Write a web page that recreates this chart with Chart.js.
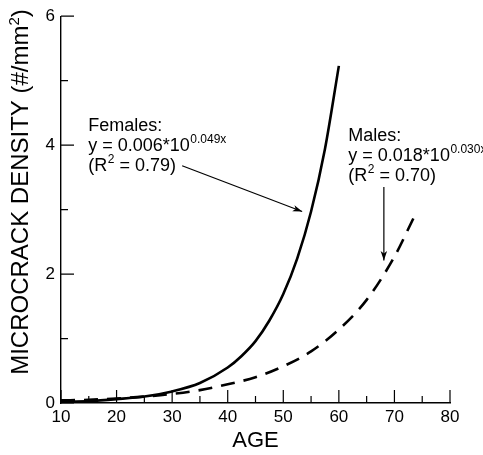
<!DOCTYPE html>
<html>
<head>
<meta charset="utf-8">
<script src="https://cdn.jsdelivr.net/npm/chart.js@4/dist/chart.umd.min.js"></script>
<style>
  html, body { margin: 0; padding: 0; background: #fff; }
  #wrap { width: 483px; height: 455px; position: relative; }
</style>
</head>
<body>
<div id="wrap"><canvas id="chart"></canvas></div>
<script>
const FONT = "'Liberation Sans', Arial, Helvetica, sans-serif";

// values
const femaleAges = [10, 15, 20, 25, 30, 35, 40, 42.5, 45, 47.5, 50, 52.5, 55, 57.5, 60];
const femaleDensity = [0.02, 0.03, 0.06, 0.10, 0.18, 0.31, 0.55, 0.73, 0.96, 1.28, 1.69, 2.24, 2.97, 3.94, 5.23];
const maleAges = [10, 15, 20, 25, 30, 35, 40, 45, 50, 55, 60, 65, 70, 73.5];
const maleDensity = [0.04, 0.05, 0.07, 0.10, 0.14, 0.20, 0.29, 0.40, 0.57, 0.80, 1.14, 1.60, 2.27, 2.88];

const xTicks = [10, 20, 30, 40, 50, 60, 70, 80];
const xMinorTicks = [15, 25, 35, 45, 55, 65, 75];
const yTicks = [0, 2, 4, 6];
const yMinorTicks = [1, 3, 5];

const pairs = (xs, ys) => xs.map((x, i) => ({ x, y: ys[i] }));

// inward tick marks, drawn from the scales
const tickMarks = {
  id: "tickMarks",
  afterDatasetsDraw(chart) {
    const { ctx, chartArea: a, scales: { x, y } } = chart;
    ctx.save();
    ctx.strokeStyle = "#000";
    ctx.lineWidth = 1.2;
    ctx.beginPath();
    xTicks.forEach(v => { const p = x.getPixelForValue(v); ctx.moveTo(p, a.bottom); ctx.lineTo(p, a.bottom - 13); });
    xMinorTicks.forEach(v => { const p = x.getPixelForValue(v); ctx.moveTo(p, a.bottom); ctx.lineTo(p, a.bottom - 7); });
    yTicks.forEach(v => { const p = y.getPixelForValue(v); ctx.moveTo(a.left, p); ctx.lineTo(a.left + 13, p); });
    yMinorTicks.forEach(v => { const p = y.getPixelForValue(v); ctx.moveTo(a.left, p); ctx.lineTo(a.left + 7, p); });
    ctx.stroke();
    ctx.restore();
  },
};

function supText(ctx, x, y, base, sup, size, supSize) {
  ctx.font = `${size}px ${FONT}`;
  ctx.fillText(base, x, y);
  const w = ctx.measureText(base).width;
  ctx.font = `${supSize}px ${FONT}`;
  ctx.fillText(sup, x + w + 0.5, y - size * 0.36);
  return w + ctx.measureText(sup).width + 0.5;
}

function arrow(ctx, x0, y0, x1, y1) {
  const ang = Math.atan2(y1 - y0, x1 - x0);
  const len = 10, spread = 0.33;
  ctx.beginPath();
  ctx.moveTo(x0, y0);
  ctx.lineTo(x1, y1);
  ctx.stroke();
  ctx.beginPath();
  ctx.moveTo(x1, y1);
  ctx.lineTo(x1 - len * Math.cos(ang - spread), y1 - len * Math.sin(ang - spread));
  ctx.lineTo(x1 - len * Math.cos(ang) * 0.7, y1 - len * Math.sin(ang) * 0.7);
  ctx.lineTo(x1 - len * Math.cos(ang + spread), y1 - len * Math.sin(ang + spread));
  ctx.closePath();
  ctx.fill();
}

function noteBlock(ctx, lx, rows, name, coef, expo, r2) {
  ctx.font = `18px ${FONT}`;
  ctx.fillText(name, lx, rows[0]);
  supText(ctx, lx, rows[1], `y = ${coef}*10`, expo, 18, 12);
  const w = supText(ctx, lx, rows[2], "(R", "2", 18, 12);
  ctx.font = `18px ${FONT}`;
  ctx.fillText(` = ${r2})`, lx + w, rows[2]);
}

const notes = {
  id: "notes",
  afterDraw(chart) {
    const { ctx, scales: { x, y } } = chart;
    ctx.save();
    ctx.fillStyle = "#000";
    ctx.strokeStyle = "#000";
    ctx.lineWidth = 1.2;
    ctx.textBaseline = "middle";
    ctx.textAlign = "left";

    noteBlock(ctx, x.getPixelForValue(14.9), [4.30, 3.99, 3.68].map(v => y.getPixelForValue(v)),
      "Females:", "0.006", "0.049x", "0.79");
    arrow(ctx, x.getPixelForValue(31.8), y.getPixelForValue(3.68), x.getPixelForValue(53.4), y.getPixelForValue(2.97));

    noteBlock(ctx, x.getPixelForValue(61.7), [4.14, 3.83, 3.52].map(v => y.getPixelForValue(v)),
      "Males:", "0.018", "0.030x", "0.70");
    arrow(ctx, x.getPixelForValue(68.1), y.getPixelForValue(3.35), x.getPixelForValue(68.1), y.getPixelForValue(2.21));

    // y axis title
    ctx.translate(28, 192);
    ctx.rotate(-Math.PI / 2);
    ctx.textBaseline = "alphabetic";
    const t1 = "MICROCRACK DENSITY (#/mm", t2 = "2", t3 = ")";
    ctx.font = `24px ${FONT}`;
    const w1 = ctx.measureText(t1).width;
    const w3 = ctx.measureText(t3).width;
    ctx.font = `15px ${FONT}`;
    const w2 = ctx.measureText(t2).width;
    const sx = -(w1 + w2 + w3) / 2;
    ctx.font = `24px ${FONT}`;
    ctx.fillText(t1, sx, 0);
    ctx.fillText(t3, sx + w1 + w2, 0);
    ctx.font = `15px ${FONT}`;
    ctx.fillText(t2, sx + w1, -9);
    ctx.restore();
  },
};

new Chart(document.getElementById("chart"), {
  type: "scatter",
  data: {
    datasets: [
      {
        label: "Females",
        data: pairs(femaleAges, femaleDensity),
        showLine: true,
        borderColor: "#000",
        borderWidth: 2.6,
        pointRadius: 0,
        cubicInterpolationMode: "monotone",
      },
      {
        label: "Males",
        data: pairs(maleAges, maleDensity),
        showLine: true,
        borderColor: "#000",
        borderWidth: 2.6,
        borderDash: [14, 9],
        pointRadius: 0,
        cubicInterpolationMode: "monotone",
      },
    ],
  },
  options: {
    responsive: true,
    maintainAspectRatio: false,
    animation: false,
    layout: { padding: { left: 0, top: 15, right: 33, bottom: 0 } },
    plugins: { legend: { display: false }, tooltip: { enabled: false } },
    scales: {
      x: {
        type: "linear",
        min: 10,
        max: 80,
        afterFit: s => { s.height = 52; },
        afterBuildTicks: s => { s.ticks = xTicks.map(v => ({ value: v })); },
        grid: { display: false, drawTicks: false },
        border: { display: true, color: "#000", width: 1.4 },
        ticks: { color: "#000", padding: 4, font: { family: FONT, size: 17 } },
        title: { display: true, text: "AGE", color: "#000", padding: { top: 0, bottom: 1 }, font: { family: FONT, size: 22 } },
      },
      y: {
        min: 0,
        max: 6,
        afterFit: s => { s.width = 61; },
        afterBuildTicks: s => { s.ticks = yTicks.map(v => ({ value: v })); },
        grid: { display: false, drawTicks: false },
        border: { display: true, color: "#000", width: 1.4 },
        ticks: { color: "#000", padding: 6, font: { family: FONT, size: 17 } },
      },
    },
  },
  plugins: [tickMarks, notes],
});
</script>
</body>
</html>
